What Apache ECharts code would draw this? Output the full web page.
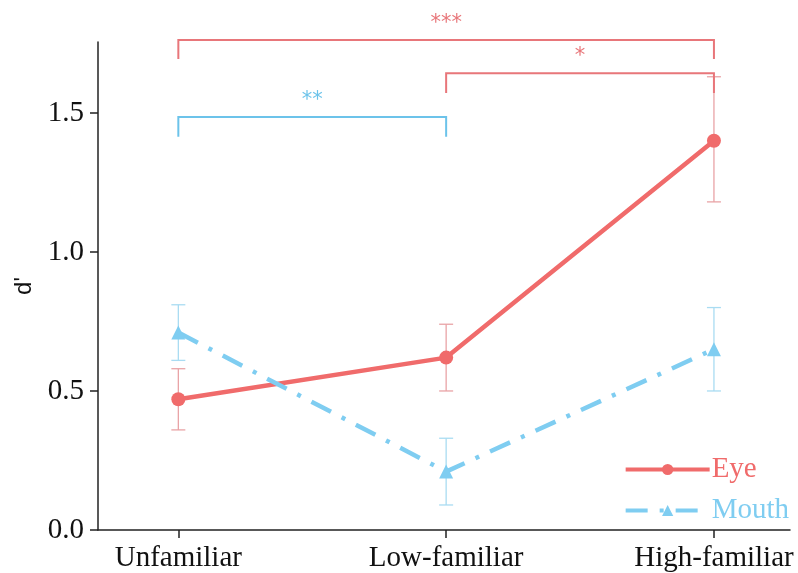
<!DOCTYPE html>
<html>
<head>
<meta charset="utf-8">
<script src="https://cdn.jsdelivr.net/npm/echarts@6/dist/echarts.min.js"></script>
<style>html,body{margin:0;padding:0;background:#fff}#c{width:798px;height:573px}</style>
</head>
<body>
<div id="c"></div>
<script>
const categories = ['Unfamiliar', 'Low-familiar', 'High-familiar'];
const eyeMean = [0.47, 0.62, 1.40];
const eyeLow = [0.36, 0.50, 1.18];
const eyeHigh = [0.58, 0.74, 1.63];
const mouthMean = [0.71, 0.21, 0.65];
const mouthLow = [0.61, 0.09, 0.50];
const mouthHigh = [0.81, 0.33, 0.80];
const yTicks = [0, 0.5, 1.0, 1.5];
// brackets: [fromIndex, toIndex, barY, legY, label, group]
const brackets = [
  [0, 2, 1.762, 1.694, '***', 'eye'],
  [1, 2, 1.643, 1.572, '*', 'eye'],
  [0, 1, 1.485, 1.414, '**', 'mouth']
];

const RED = '#F06B6B';
const RED_ERR = '#E9A3A6';
const RED_BR = '#E8767A';
const BLUE = '#7FCDF1';
const BLUE_ERR = '#A9DCF2';
const BLUE_BR = '#6CC3EA';
const SERIF = '"Liberation Serif", "Times New Roman", serif';

function errData(lo, hi) { return lo.map((v, i) => [i, v, hi[i]]); }
function errRender(color) {
  return function (params, api) {
    const x = api.value(0);
    const a = api.coord([x, api.value(1)]);
    const b = api.coord([x, api.value(2)]);
    const w = 7;
    const st = { stroke: color, lineWidth: 1.3 };
    return { type: 'group', children: [
      { type: 'line', shape: { x1: a[0], y1: a[1], x2: b[0], y2: b[1] }, style: st },
      { type: 'line', shape: { x1: a[0] - w, y1: a[1], x2: a[0] + w, y2: a[1] }, style: st },
      { type: 'line', shape: { x1: b[0] - w, y1: b[1], x2: b[0] + w, y2: b[1] }, style: st }
    ]};
  };
}

const chart = echarts.init(document.getElementById('c'));
chart.setOption({
  animation: false,
  backgroundColor: '#fff',
  grid: { left: 98, right: 8, top: 42, bottom: 42 },
  xAxis: {
    type: 'value', min: -0.3, max: 2.284,
    splitLine: { show: false },
    axisLine: { onZero: false, lineStyle: { color: '#222', width: 1.5 } },
    axisTick: { show: true, length: 8, inside: false, customValues: [0, 1, 2], lineStyle: { color: '#222', width: 1.5 } },
    axisLabel: { customValues: [0, 1, 2], formatter: v => categories[Math.round(v)], fontFamily: SERIF, fontSize: 29, color: '#111', margin: 14 }
  },
  yAxis: {
    type: 'value', min: 0, max: 1.755,
    name: "d'", nameLocation: 'middle', nameGap: 56, nameRotate: 90,
    nameTextStyle: { fontFamily: '"Liberation Sans", Arial, sans-serif', fontSize: 24, color: '#111' },
    splitLine: { show: false },
    axisLine: { show: true, onZero: false, lineStyle: { color: '#222', width: 1.5 } },
    axisTick: { show: true, length: 8, customValues: yTicks, lineStyle: { color: '#222', width: 1.5 } },
    axisLabel: { customValues: yTicks, formatter: v => v.toFixed(1), fontFamily: SERIF, fontSize: 29, color: '#111', margin: 14 }
  },
  legend: {
    orient: 'vertical', right: 4, bottom: 43, itemWidth: 84, itemHeight: 14, itemGap: 12,
    lineStyle: { width: 4 },
    data: [
      { name: 'Eye', textStyle: { color: RED } },
      { name: 'Mouth', textStyle: { color: BLUE } }
    ],
    textStyle: { fontFamily: SERIF, fontSize: 29, padding: [0, 0, 0, -3] }
  },
  series: [
    { type: 'custom', name: 'eyeErr', data: errData(eyeLow, eyeHigh), renderItem: errRender(RED_ERR), z: 1, silent: true },
    { type: 'custom', name: 'mouthErr', data: errData(mouthLow, mouthHigh), renderItem: errRender(BLUE_ERR), z: 1, silent: true },
    {
      type: 'line', name: 'Eye', data: eyeMean.map((v, i) => [i, v]),
      symbol: 'circle', symbolSize: 14,
      lineStyle: { color: RED, width: 4.5 }, itemStyle: { color: RED }, z: 3
    },
    {
      type: 'line', name: 'Mouth', data: mouthMean.map((v, i) => [i, v]),
      symbol: 'triangle', symbolSize: 14,
      lineStyle: { color: BLUE, width: 4.5, type: [22, 12, 4, 12] }, itemStyle: { color: BLUE }, z: 3
    },
    {
      type: 'custom', name: 'brackets', clip: false, silent: true,
      data: brackets.map(b => [b[0], b[1], b[2], b[3], b[4], b[5]]),
      renderItem: function (params, api) {
        const b = brackets[params.dataIndex];
        const color = b[5] === 'eye' ? RED_BR : BLUE_BR;
        const p1 = api.coord([b[0], b[3]]);
        const p2 = api.coord([b[0], b[2]]);
        const p3 = api.coord([b[1], b[2]]);
        const p4 = api.coord([b[1], b[3]]);
        return { type: 'group', children: [
          { type: 'polyline', shape: { points: [p1, p2, p3, p4] }, style: { stroke: color, lineWidth: 2, fill: null } },
          { type: 'text', x: (p2[0] + p3[0]) / 2, y: p2[1] - 6,
            style: { text: b[4], fill: color, fontSize: 21, fontFamily: '"DejaVu Sans", sans-serif', align: 'center', verticalAlign: 'bottom' } }
        ]};
      }
    }
  ]
});
</script>
</body>
</html>
